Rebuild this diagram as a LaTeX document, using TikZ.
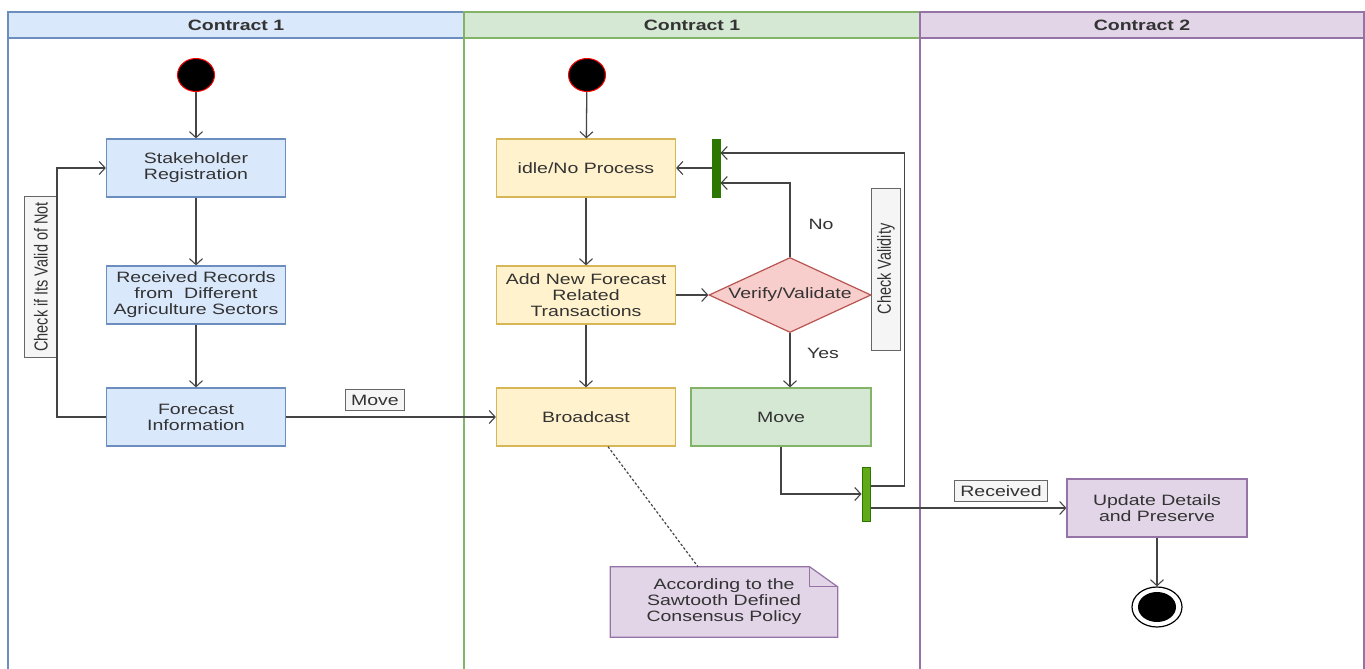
\documentclass[tikz,border=0pt]{standalone}
\usepackage{graphicx}
\usepackage{fontspec}
\setmainfont{Liberation Sans}[FakeStretch=1.3]
\newfontfamily\rotfont{Liberation Sans}
\usetikzlibrary{arrows.meta,shapes.geometric,backgrounds}
\definecolor{bluefill}{HTML}{DAE8FC}
\definecolor{bluedraw}{HTML}{6C8EBF}
\definecolor{yelfill}{HTML}{FFF2CC}
\definecolor{yeldraw}{HTML}{D6B656}
\definecolor{grnfill}{HTML}{D5E8D4}
\definecolor{grndraw}{HTML}{82B366}
\definecolor{redfill}{HTML}{F8CECC}
\definecolor{reddraw}{HTML}{B85450}
\definecolor{purfill}{HTML}{E1D5E7}
\definecolor{purdraw}{HTML}{9673A6}
\definecolor{tagfill}{HTML}{F5F5F5}
\definecolor{tagdraw}{HTML}{666666}
\definecolor{bardark}{HTML}{2D7600}
\definecolor{barlight}{HTML}{60A917}
\definecolor{txt}{HTML}{333333}
\definecolor{linec}{HTML}{444444}
\newcommand{\vtext}[1]{\scalebox{1}[1.3]{\rotfont\fontsize{14.5}{16}\selectfont #1}}

\begin{document}
\begin{tikzpicture}[x=1pt, y=-1pt, font=\fontsize{15}{16}\selectfont,
    act/.style={rectangle, minimum width=179pt, minimum height=58pt, align=center, text=txt, line width=1.2pt, inner sep=1pt},
    flow/.style={draw=linec, line width=1.3pt, -{Straight Barb[length=6pt,width=13pt,line width=1.1pt]}},
    tag/.style={draw=tagdraw, fill=tagfill, text=txt, line width=1pt, inner xsep=6pt, inner ysep=1pt, minimum height=21pt},
    startdot/.style={ellipse, fill=black, draw=red, line width=1pt, minimum width=37pt, minimum height=33pt, inner sep=0pt},
    bar/.style={rectangle, draw=bardark, line width=1pt, minimum width=8pt, inner sep=0pt}]
    \useasboundingbox (0,0) rectangle (1365,669);
    % swimlanes
    \foreach \xa/\xb/\c/\t [count=\i] in {8/464/blue/Contract 1, 464/920/grn/Contract 1, 920/1364/pur/Contract 2} {
        \draw[draw=\c draw, line width=1.6pt] (\xa,12) rectangle (\xb,672);
        \draw[draw=\c draw, fill=\c fill, line width=1.6pt] (\xa,12) rectangle (\xb,38);
        \node[font=\fontsize{15}{16}\selectfont\bfseries, text=txt] (h\i) at ({(\xa+\xb)/2},25) {\t};
    }
    % lane 1
    \node[startdot] (s1) at (196,75) {};
    \node[act, fill=bluefill, draw=bluedraw] (stake) at (196,168) {Stakeholder\\Registration};
    \node[act, fill=bluefill, draw=bluedraw] (recv) at (196,295) {Received Records\\from~~Different\\Agriculture Sectors};
    \node[act, fill=bluefill, draw=bluedraw] (fore) at (196,417) {Forecast\\Information};
    \node[tag, rotate=90, minimum width=161pt, minimum height=33pt] (chk1) at (41,277) {\vtext{Check if Its Valid of Not}};
    \node[tag] (mvtag) at (375,400) {Move};
    \draw[flow] (s1) -- (stake);
    \draw[flow] (stake) -- (recv);
    \draw[flow] (recv) -- (fore);
    \draw[flow] (fore.west) -- ++(-49,0) |- (stake.west);
    % lane 2
    \node[startdot] (s2) at (587,75) {};
    \node[act, fill=yelfill, draw=yeldraw] (idle) at (586,168) {idle/No Process};
    \node[act, fill=yelfill, draw=yeldraw] (addf) at (586,295) {Add New Forecast\\Related\\Transactions};
    \node[act, fill=yelfill, draw=yeldraw] (bcast) at (586,417) {Broadcast};
    \node[act, fill=grnfill, draw=grndraw, minimum width=180pt] (mv) at (781,417) {Move};
    \node[diamond, fill=redfill, draw=reddraw, line width=1.2pt, minimum width=162pt, minimum height=75pt, inner sep=0pt,
        label={[text=txt]center:Verify/Validate}] (vv) at (790,295) {};
    \node[bar, fill=bardark, minimum height=58pt] (bar1) at (716,168) {};
    \node[bar, fill=barlight, minimum height=54pt] (bar2) at (866,494) {};
    \node[tag, rotate=90, minimum width=162pt, minimum height=29pt] (chk2) at (886,269) {\vtext{Check Validity}};
    \node[text=txt] (no) at (821,224) {No};
    \node[text=txt] (yes) at (823,353) {Yes};
    \node[align=center, text=txt, minimum width=227pt, minimum height=70pt, inner sep=0pt] (note) at (724,602)
        {According to the\\Sawtooth Defined\\Consensus Policy};
    \begin{scope}[on background layer]
        \filldraw[fill=purfill, draw=purdraw, line width=1.2pt] (note.north west) -- ([xshift=-28pt]note.north east)
            -- ([yshift=-20pt]note.north east) -- (note.south east) -- (note.south west) -- cycle;
        \draw[draw=purdraw, line width=1.2pt] ([xshift=-28pt]note.north east) -- ([xshift=-28pt,yshift=-20pt]note.north east)
            -- ([yshift=-20pt]note.north east);
    \end{scope}
    \draw[flow] (s2) -- (idle);
    \draw[flow] (idle) -- (addf);
    \draw[flow] (addf) -- (bcast);
    \draw[flow] (addf) -- (vv);
    \draw[flow] (bar1) -- (idle);
    \draw[flow] (vv.north) |- ([yshift=-15pt]bar1.east);
    \draw[flow] (vv.south) -- (vv.south |- mv.north);
    \draw[flow] (mv.south) |- (bar2.west);
    \draw[flow] ([yshift=8pt]bar2.east) -- ++(34,0) |- ([yshift=15pt]bar1.east);
    \draw[flow] (fore) -- (bcast);
    \draw[linec, line width=1.2pt, dash pattern=on 2.5pt off 2pt] ([xshift=22pt]bcast.south) -- ([xshift=-26pt]note.north);
    % lane 3
    \node[act, fill=purfill, draw=purdraw, minimum width=180pt] (upd) at (1157,508) {Update Details\\and Preserve};
    \node[ellipse, draw=black, fill=white, line width=1.2pt, minimum width=50pt, minimum height=40pt] (stop) at (1157,607) {};
    \fill (stop.center) ellipse (19 and 15);
    \node[tag] (rctag) at (1001,491) {Received};
    \draw[flow] ([yshift=-14pt]bar2.east) -- ([yshift=-14pt]bar2.east -| upd.west);
    \draw[flow] (upd) -- (stop);
\end{tikzpicture}
\end{document}
